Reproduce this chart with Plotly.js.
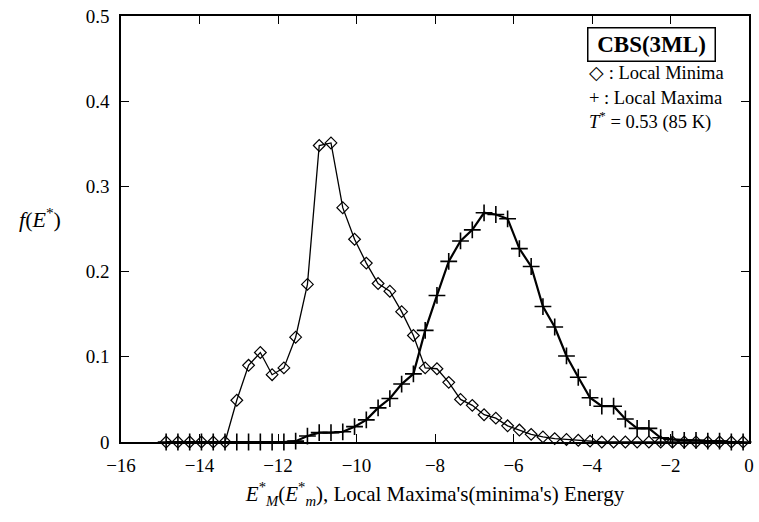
<!DOCTYPE html>
<html>
<head>
<meta charset="utf-8">
<script src="https://cdn.plot.ly/plotly-3.0.1.min.js"></script>
<style>html,body{margin:0;padding:0;background:#fff;}#chart{width:759px;height:522px;}</style>
</head>
<body>
<div id="chart"></div>
<script>
// Energy grid (E*)
const energy = [-14.85,-14.55,-14.25,-13.95,-13.65,-13.35,-13.05,-12.75,-12.45,-12.15,
  -11.85,-11.55,-11.25,-10.95,-10.65,-10.35,-10.05,-9.75,-9.45,-9.15,
  -8.85,-8.55,-8.25,-7.95,-7.65,-7.35,-7.05,-6.75,-6.45,-6.15,
  -5.85,-5.55,-5.25,-4.95,-4.65,-4.35,-4.05,-3.75,-3.45,-3.15,
  -2.85,-2.55,-2.25,-1.95,-1.65,-1.35,-1.05,-0.75,-0.45,-0.15];

// f(E*) for local minima (diamonds)
const localMinima = [0,0,0,0,0,0,0.049,0.090,0.105,0.079,
  0.087,0.123,0.185,0.348,0.351,0.275,0.238,0.210,0.186,0.177,
  0.153,0.125,0.087,0.086,0.070,0.050,0.043,0.032,0.028,0.019,
  0.014,0.009,0.006,0.004,0.003,0.002,0.001,0,0,0,
  0,0,0,0,0,0,0,0,0,0];

// f(E*) for local maxima (crosses)
const localMaxima = [0,0,0,0,0,0,0,0,0,0,
  0,0.001,0.007,0.011,0.011,0.012,0.018,0.026,0.040,0.051,
  0.068,0.080,0.131,0.172,0.212,0.236,0.249,0.269,0.267,0.262,
  0.227,0.206,0.159,0.135,0.101,0.076,0.052,0.042,0.042,0.027,
  0.016,0.016,0.005,0.003,0.002,0.002,0.001,0.001,0,0];

const xTicks = [-16,-14,-12,-10,-8,-6,-4,-2,0];
const xTickText = ["\u221216","\u221214","\u221212","\u221210","\u22128","\u22126","\u22124","\u22122","0"];
const yTicks = [0,0.1,0.2,0.3,0.4,0.5];
const yTickText = ["0","0.1","0.2","0.3","0.4","0.5"];

const serif = "Liberation Serif";

const traces = [
  {
    x: energy, y: localMinima, name: "Local Minima",
    type: "scatter", mode: "lines+markers", cliponaxis: false,
    line: {color: "#000", width: 1.3},
    marker: {symbol: "diamond-open", size: 9, color: "#000", line: {width: 1.2, color: "#000"}}
  },
  {
    x: energy, y: localMaxima, name: "Local Maxima",
    type: "scatter", mode: "lines+markers", cliponaxis: false,
    line: {color: "#000", width: 2.2},
    marker: {symbol: "cross-thin-open", size: 12, color: "#000", line: {width: 1.6, color: "#000"}}
  }
];

const layout = {
  width: 759, height: 522,
  margin: {l: 121, r: 10, t: 16, b: 80},
  paper_bgcolor: "#fff", plot_bgcolor: "#fff",
  showlegend: false,
  font: {family: serif, color: "#000", size: 18},
  xaxis: {
    range: [-16, 0], tickvals: xTicks, ticktext: xTickText,
    ticks: "inside", ticklen: 8, tickwidth: 1.2, tickcolor: "#000",
    showline: true, linecolor: "#000", linewidth: 1.5, mirror: "ticks",
    showgrid: false, zeroline: false, ticklabelstandoff: 5,
    tickfont: {family: serif, size: 19},
    title: {text: "<i>E</i><sup>*</sup><sub><i>M</i></sub>(<i>E</i><sup>*</sup><sub><i>m</i></sub>), Local Maxima's(minima's) Energy",
            font: {family: serif, size: 21}, standoff: 12}
  },
  yaxis: {
    range: [0, 0.5], tickvals: yTicks, ticktext: yTickText,
    ticks: "inside", ticklen: 8, tickwidth: 1.2, tickcolor: "#000",
    showline: true, linecolor: "#000", linewidth: 1.5, mirror: "ticks",
    showgrid: false, zeroline: false, ticklabelstandoff: 6,
    tickfont: {family: serif, size: 19}
  },
  annotations: [
    {xref: "paper", yref: "paper", x: -0.129, y: 0.526, xanchor: "center", yanchor: "middle",
     text: "<i>f</i>(<i>E</i><sup>*</sup>)", showarrow: false, font: {family: serif, size: 22}},
    {xref: "paper", yref: "paper", x: 0.844, y: 0.932, xanchor: "center", yanchor: "middle",
     text: "<b>CBS(3ML)</b>", showarrow: false, font: {family: serif, size: 23},
     bordercolor: "#000", borderwidth: 1.5, borderpad: 1, width: 124, height: 30, bgcolor: "#fff"},
    {xref: "paper", yref: "paper", x: 0.7416, y: 0.867, xanchor: "left", yanchor: "middle",
     text: "\u25C7 : Local Minima", showarrow: false, font: {family: serif, size: 18.5}},
    {xref: "paper", yref: "paper", x: 0.7416, y: 0.808, xanchor: "left", yanchor: "middle",
     text: "+ : Local Maxima", showarrow: false, font: {family: serif, size: 18.5}},
    {xref: "paper", yref: "paper", x: 0.7416, y: 0.754, xanchor: "left", yanchor: "middle",
     text: "<i>T</i><sup>*</sup> = 0.53 (85 K)", showarrow: false, font: {family: serif, size: 18.5}}
  ]
};

Plotly.newPlot("chart", traces, layout, {displayModeBar: false});
</script>
</body>
</html>
